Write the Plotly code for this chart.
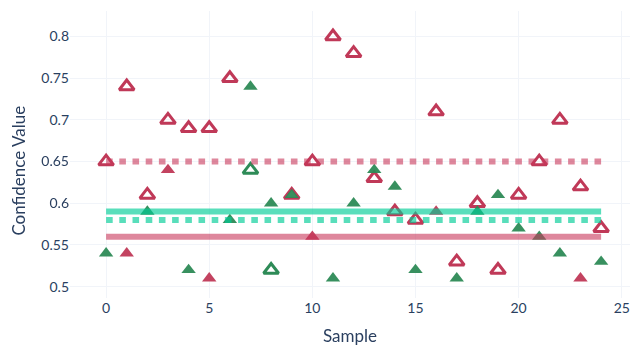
import plotly.graph_objects as go

samples = list(range(25))

# Open triangles (series A): value and whether correct (green) or not (red)
open_values = [0.65, 0.74, 0.61, 0.70, 0.69, 0.69, 0.75, 0.64, 0.52, 0.61,
               0.65, 0.80, 0.78, 0.63, 0.59, 0.58, 0.71, 0.53, 0.60, 0.52,
               0.61, 0.65, 0.70, 0.62, 0.57]
open_correct = [0, 0, 0, 0, 0, 0, 0, 1, 1, 0,
                0, 0, 0, 0, 0, 0, 0, 0, 0, 0,
                0, 0, 0, 0, 0]

# Filled triangles (series B)
filled_values = [0.54, 0.54, 0.59, 0.64, 0.52, 0.51, 0.58, 0.74, 0.60, 0.61,
                 0.56, 0.51, 0.60, 0.64, 0.62, 0.52, 0.59, 0.51, 0.59, 0.61,
                 0.57, 0.56, 0.54, 0.51, 0.53]
filled_correct = [1, 0, 1, 0, 1, 0, 1, 1, 1, 1,
                  0, 1, 1, 1, 1, 1, 0, 1, 1, 1,
                  1, 1, 1, 0, 1]

# Reference levels
open_wrong_level = 0.65
open_right_level = 0.58
filled_right_level = 0.59
filled_wrong_level = 0.56

x_ticks = [0, 5, 10, 15, 20, 25]
y_ticks = [0.5, 0.55, 0.6, 0.65, 0.7, 0.75, 0.8]
y_tick_labels = ["0.5", "0.55", "0.6", "0.65", "0.7", "0.75", "0.8"]

RED = "#C03958"
GREEN = "#2E8B57"
LINE_RED = "rgba(200,55,90,0.6)"
LINE_GREEN = "rgba(0,204,150,0.65)"
GRID = "#F1F4F9"

fig = go.Figure()

fig.add_trace(go.Scatter(
    x=samples, y=open_values, mode="markers",
    marker=dict(symbol="triangle-up-open", size=13,
                color=[GREEN if c else RED for c in open_correct],
                line=dict(width=3)),
    showlegend=False))

fig.add_trace(go.Scatter(
    x=samples, y=filled_values, mode="markers",
    marker=dict(symbol="triangle-up", size=12.5,
                color=[GREEN if c else RED for c in filled_correct],
                line=dict(width=0)),
    opacity=0.95,
    showlegend=False))

x0, x1 = samples[0], samples[-1]
for lvl, col, dash in [(open_wrong_level, LINE_RED, "6.6px,6.6px"),
                       (open_right_level, LINE_GREEN, "6.6px,6.6px"),
                       (filled_right_level, LINE_GREEN, "solid"),
                       (filled_wrong_level, LINE_RED, "solid")]:
    fig.add_trace(go.Scatter(
        x=[x0, x1], y=[lvl, lvl], mode="lines",
        line=dict(color=col, width=6, dash=dash),
        showlegend=False, hoverinfo="skip"))

fig.update_layout(
    template="plotly_white",
    width=631, height=349,
    margin=dict(l=70, r=1, t=11, b=51),
    font=dict(family="Lato", size=14, color="#2a3f5f"),
    showlegend=False,
)
fig.update_xaxes(title=dict(text="Sample", font=dict(size=17)),
                 range=[-1.75, 25.4], tickvals=x_ticks,
                 gridcolor=GRID, zeroline=False)
fig.update_yaxes(range=[0.4864, 0.8306],
                 tickvals=y_ticks, ticktext=y_tick_labels,
                 gridcolor=GRID, zeroline=False)
fig.add_annotation(text="Confidence Value", textangle=-90,
                   xref="paper", yref="paper", x=-0.091, y=0.444,
                   xanchor="center", yanchor="middle", showarrow=False,
                   font=dict(size=17, color="#2a3f5f"))

fig.write_html(
    "out.html",
    config={"displayModeBar": False},
    post_script="document.body.style.margin='0';document.body.style.overflow='hidden';",
)
